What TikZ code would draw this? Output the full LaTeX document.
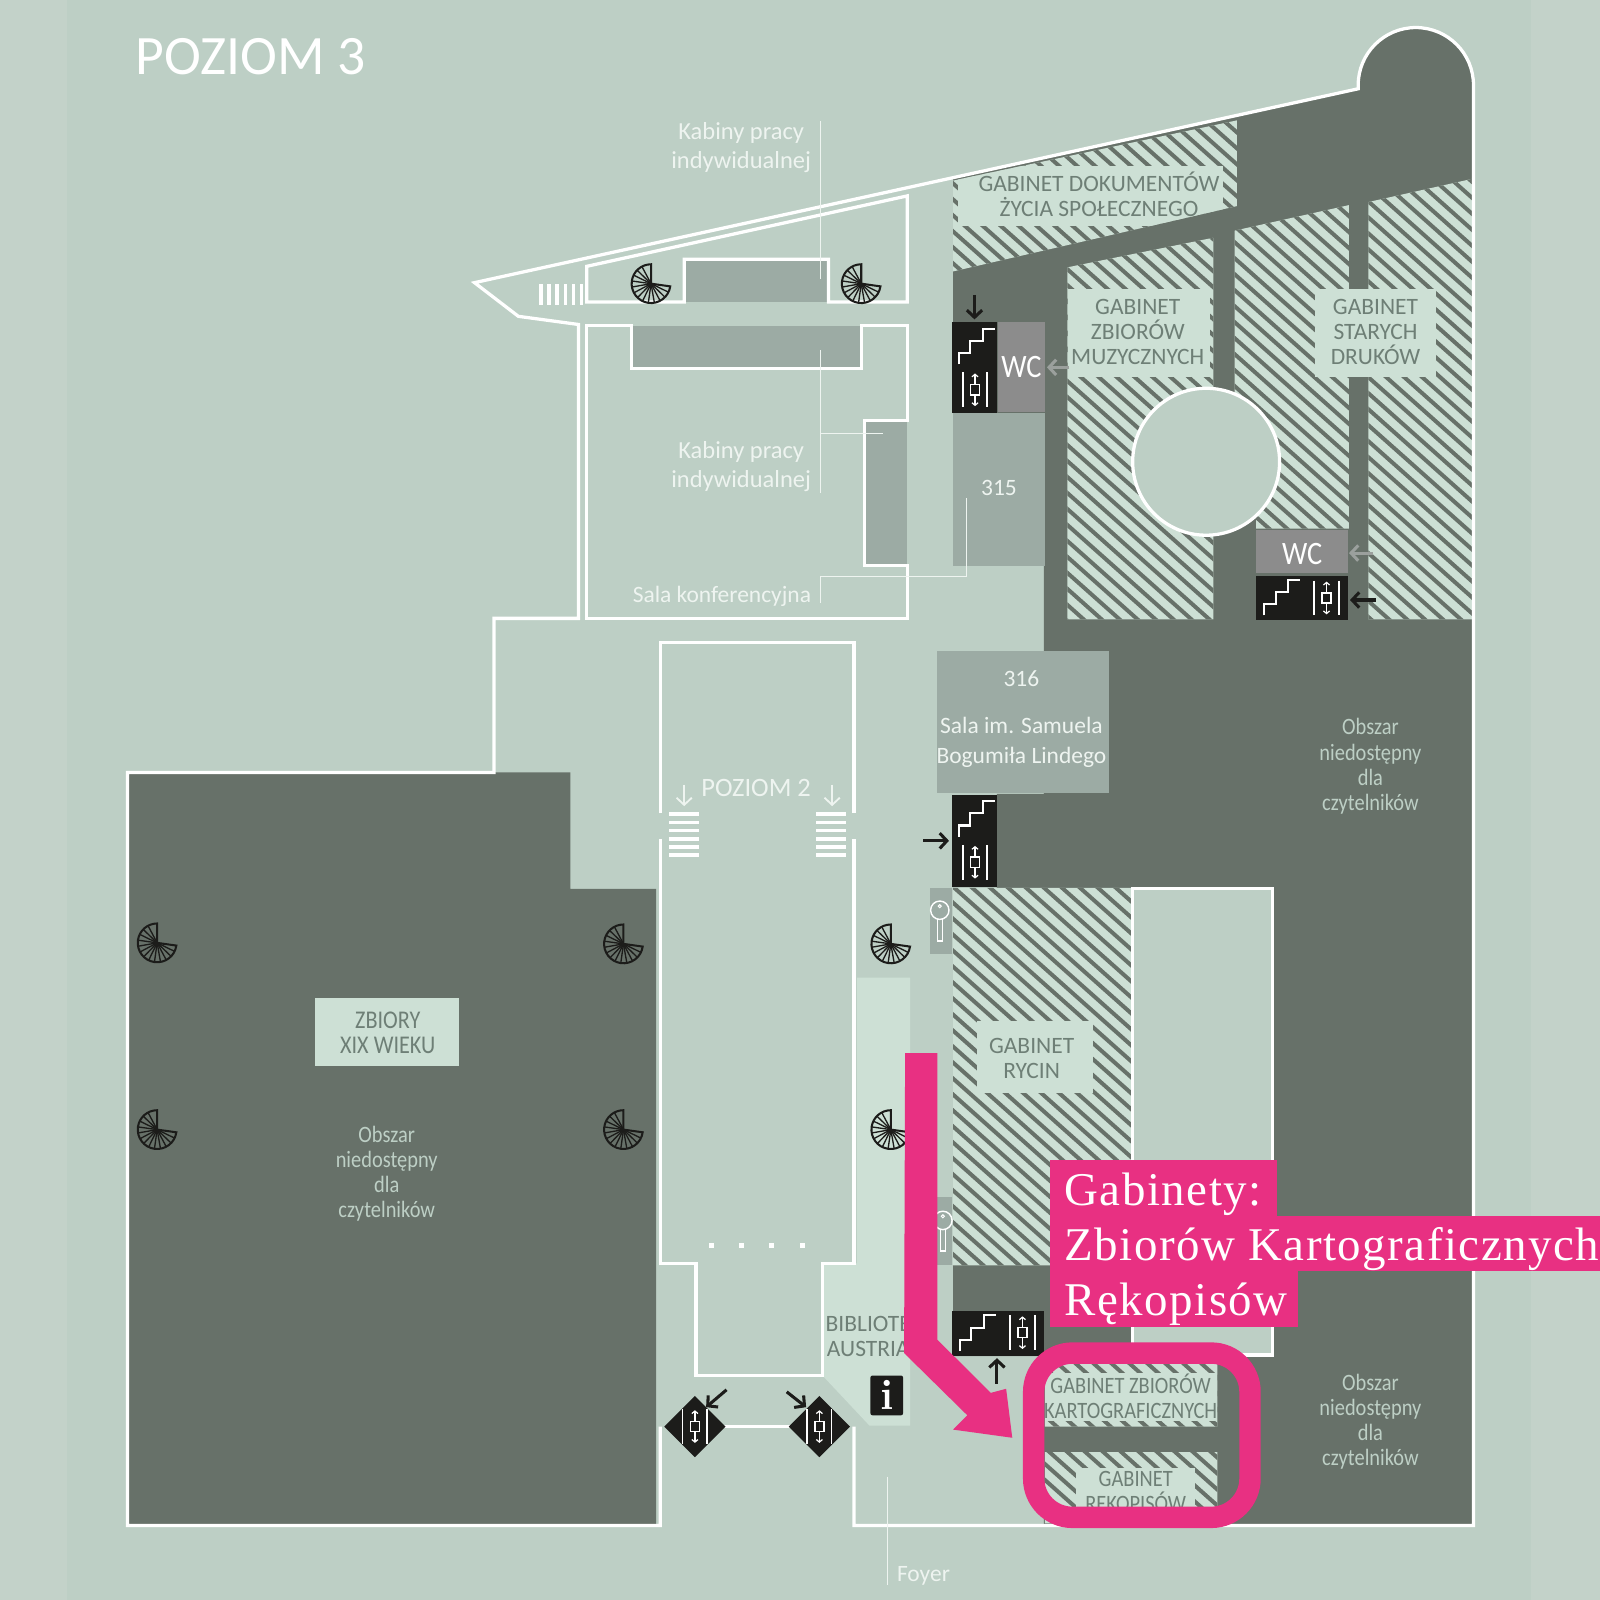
\documentclass[tikz,border=0pt]{standalone}
\usepackage{fontspec}
\setsansfont{Carlito}
\newfontfamily\narrowsans[FakeStretch=0.87]{Carlito}
\newfontfamily\pinkserif[LetterSpace=3.2]{Liberation Serif}
\usetikzlibrary{arrows.meta}
\definecolor{sidebg}{HTML}{C3D2C9}
\definecolor{floorbg}{HTML}{BDCFC5}
\definecolor{darkarea}{HTML}{677169}
\definecolor{roomgray}{HTML}{9CABA4}
\definecolor{panel}{HTML}{CDE0D5}
\definecolor{wcgray}{HTML}{8C8C8C}
\definecolor{iconblack}{HTML}{1C1C1A}
\definecolor{hotpink}{HTML}{E83082}
\definecolor{labelgreen}{HTML}{6E7F76}
\definecolor{labelwhite}{HTML}{EEF4F0}
\tikzset{
  wall/.style={draw=white,line width=3.2pt,line join=miter},
  thinline/.style={draw=labelwhite,line width=1pt},
  hatchline/.style={draw=darkarea,line width=3.9pt},
  maptext/.style={font=\sffamily\fontsize{23}{24.6}\selectfont,align=center,inner sep=0pt},
  gabinet/.style={maptext,text=labelgreen},
  narrowtext/.style={gabinet,font=\narrowsans\fontsize{23}{24.6}\selectfont},
  whitetext/.style={maptext,text=labelwhite},
  wcmark/.style={maptext,text=white,font=\narrowsans\fontsize{32}{32}\selectfont},
  closedtext/.style={maptext,text=floorbg,font=\narrowsans\fontsize{23}{24.6}\selectfont},
  pinktext/.style={font=\pinkserif\fontsize{46}{54}\selectfont,anchor=base west,inner sep=0pt,text=white},
  blackarrow/.style={draw=iconblack,line width=3pt,-{Straight Barb[length=7pt,width=15pt,line width=3pt]}},
  grayarrow/.style={blackarrow,draw=wcgray!70!floorbg},
  whitearrow/.style={draw=labelwhite,line width=1.8pt,-{Straight Barb[length=7pt,width=15pt,line width=1.8pt]}},
  stairsicon/.pic={\draw[white,line width=2pt] (0,35)--(0,24)--(11,24)--(11,12)--(23,12)--(23,0)--(35,0);},
  lifticon/.pic={
    \draw[white,line width=1.6pt] (-12,-17)--(-12,17) (12,-17)--(12,17);
    \draw[white,line width=1.4pt] (-4.5,-5) rectangle (4.5,5);
    \draw[white,line width=1.2pt,-{Straight Barb[length=2.5pt,width=6pt]}] (0,-5)--(0,-16);
    \draw[white,line width=1.2pt,-{Straight Barb[length=2.5pt,width=6pt]}] (0,5)--(0,16);},
  spiralstair/.pic={
    \draw[iconblack,line width=2pt] (0,0)--(8:19) arc[start angle=8,end angle=270,radius=19]--cycle;
    \foreach \a in {26,44,...,252}
      \draw[iconblack,line width=1.3pt] (0,0)--(\a:19);},
  keyicon/.pic={
    \draw[white,line width=1.4pt] (0,0) circle[radius=9];
    \draw[white,line width=1pt] (0,-4) circle[radius=1.5];
    \draw[white,line width=1.4pt] (-2.5,9)--(-2.5,30)--(2.5,30)--(2.5,9);}
}
\begin{document}
\begin{tikzpicture}[x=1pt,y=-1pt]
\useasboundingbox (0,0) rectangle (1568,1568);
\fill[sidebg] (0,0) rectangle (1568,1568);
\fill[floorbg] (66,0) rectangle (1500,1568);
%dark areas
\fill[darkarea] (125,757)--(559,757)--(559,871)--(643,871)--(643,1495)--(125,1495)--cycle;
\fill[darkarea] (934,174)--(1331,87)--(1331,83.5) arc[start angle=180,end angle=360,radius=56.5]--(1444,1495)--(1023,1495)--(1023,1329)--(934,1329)--(934,870)--(977,870)--(977,778)--(1023,778)--(1023,405)--(934,405)--cycle;
%rooms
\fill[roomgray] (670,254) rectangle (812,296);
\fill[roomgray] (619,319) rectangle (844,361);
\fill[roomgray] (847,412) rectangle (889,554);
\fill[roomgray] (934,405) rectangle (1024,555);
\fill[roomgray] (918,638) rectangle (1087,777);
\fill[panel] (840,958)--(892,958)--(892,1397)--(852,1397)--(806,1348)--(806,1238)--(840,1238)--cycle;
%hatched rooms
\begin{scope}
\clip (934,177)--(1212,118)--(1212,202)--(934,266)--cycle
  (1046,262)--(1189,233)--(1189,607)--(1046,607)--cycle
  (1210,226)--(1322,201)--(1322,518)--(1231,518)--(1231,505)--(1210,480)--cycle
  (1341,198)--(1444,175)--(1444,607)--(1341,607)--cycle
  (934,870) rectangle (1110,1240)
  (1024,1336) rectangle (1193,1398)
  (1024,1423) rectangle (1193,1493);
\fill[panel] (900,100) rectangle (1450,1500);
\foreach \c in {-992.8,-975.2,...,1400}
  \draw[hatchline] (\c,0)--(\c+1800,1602);
\end{scope}
%label panels
\begin{scope}
\clip (934,177)--(1212,118)--(1212,202)--(934,266)--cycle;
\fill[panel] (939,163) rectangle (1199,221);
\end{scope}
\fill[panel] (1047,283) rectangle (1186,369);
\fill[panel] (1289,283) rectangle (1407,369);
\fill[panel] (957,1001) rectangle (1071,1071);
\fill[panel] (1024,1346) rectangle (1193,1393);
\fill[panel] (1054,1439) rectangle (1171,1490);
\fill[panel] (309,978) rectangle (450,1045);
%gray tiles
\fill[wcgray] (978,316) rectangle (1024,404);
\fill[wcgray] (1231,519) rectangle (1321,562);
\fill[roomgray] (911,870) rectangle (933,935);
\fill[roomgray] (911,1173) rectangle (933,1240);
%walls
\draw[wall,fill=floorbg] (1182,452.5) circle[radius=72];
\draw[wall,fill=floorbg] (1110,871) rectangle (1247,1328);
\draw[wall] (647,1398)--(647,1495)--(125,1495)--(125,757)--(484,757)--(484,606)--(567,606)--(567,318)--(508,310)--(465,277)--(1331,87)--(1331,83.5) arc[start angle=180,end angle=360,radius=56.5]--(1444,1495)--(837,1495)--(837,1398);
\draw[wall] (680,1398)--(780,1398);
\draw[wall] (575,261)--(889,192)--(889,296)--(812,296)--(812,254)--(670.5,254)--(670.5,296)--(575,296)--cycle;
\draw[wall] (575,319)--(619,319)--(619,361)--(844,361)--(844,319)--(889,319)--(889,412)--(847,412)--(847,554)--(889,554)--(889,606)--(575,606)--cycle;
\draw[wall] (647,797)--(647,630)--(837,630)--(837,797);
\draw[wall] (647,822)--(647,1238)--(682,1238)--(682,1348)--(806,1348)--(806,1238)--(837,1238)--(837,822);
%steps and dots
\foreach \x in {530,538,546,554,562,570}
  \fill[white] (\x-1.7,278) rectangle (\x+1.7,299);
\foreach \y in {798,806,814,822,830,838} {
  \fill[white] (656,\y-1.8) rectangle (685,\y+1.8);
  \fill[white] (800,\y-1.8) rectangle (829,\y+1.8);
}
\foreach \x in {697,727,756,786}
  \fill[white] (\x-2.5,1218.5) rectangle (\x+2.5,1223.5);
%thin label lines
\draw[thinline] (804,119)--(804,273);
\draw[thinline] (804,343)--(804,483);
\draw[thinline] (804,425)--(865,425);
\draw[thinline] (804,591)--(804,565)--(947,565)--(947,488);
\draw[thinline] (870,1447)--(870,1553);
%black blocks
\fill[iconblack] (933,316) rectangle (977,405);
\fill[iconblack] (933,779) rectangle (977,869);
\fill[iconblack] (1231,564) rectangle (1321,608);
\fill[iconblack] (933,1285) rectangle (1023,1329);
\fill[iconblack,rounded corners=2pt] (853,1348) rectangle (885,1387);
\fill[iconblack] (651,1398)--(681,1368)--(711,1398)--(681,1428)--cycle;
\fill[iconblack] (773,1398)--(803,1368)--(833,1398)--(803,1428)--cycle;
%icons
\pic at (940,322) {stairsicon};
\pic at (955.5,382) {lifticon};
\pic at (940,785) {stairsicon};
\pic at (955.5,845) {lifticon};
\pic at (1239,568) {stairsicon};
\pic at (1300,586) {lifticon};
\pic at (941,1289) {stairsicon};
\pic at (1002,1306) {lifticon};
\pic at (681,1398) {lifticon};
\pic at (803,1398) {lifticon};
\pic at (921,892) {keyicon};
\pic at (924,1196) {keyicon};
\foreach \x/\y in {154/924,611/925,154/1107,611/1107,873/925,873/1107,638/278,844/278}
  \pic at (\x,\y) {spiralstair};
%small arrows
\draw[blackarrow] (955,289)--(955,313);
\draw[blackarrow] (905,824)--(930,824);
\draw[blackarrow] (1348,588)--(1323,588);
\draw[blackarrow] (977,1356)--(977,1331);
\draw[blackarrow] (712,1362)--(692,1379);
\draw[blackarrow] (771,1364)--(790,1379);
\draw[grayarrow] (1048,360)--(1026,360);
\draw[grayarrow] (1346,542)--(1322,542);
\draw[whitearrow] (670.5,769)--(670.5,790);
\draw[whitearrow] (815.5,769)--(815.5,790);
%map texts
\node[maptext,text=white,font=\sffamily\fontsize{54.5}{54}\selectfont,anchor=west] (title) at (133,56) {POZIOM 3};
\node[whitetext,font=\sffamily\fontsize{24}{28.5}\selectfont,anchor=east] (cabinsTop) at (795,145) {Kabiny pracy\\indywidualnej};
\node[whitetext,font=\sffamily\fontsize{24}{28.5}\selectfont,anchor=east] (cabinsLow) at (795,457.5) {Kabiny pracy\\indywidualnej};
\node[whitetext,anchor=east] (confRoom) at (795,584) {Sala konferencyjna};
\node[whitetext] (room315) at (979,478) {315};
\node[whitetext] (room316) at (1001,665) {316};
\node[whitetext,font=\sffamily\fontsize{23}{30}\selectfont] (lindeRoom) at (1001,727.5) {Sala im. Samuela\\Bogumiła Lindego};
\node[wcmark] (wcUpper) at (1001,360) {WC};
\node[wcmark] (wcLower) at (1276,543) {WC};
\node[whitetext,font=\sffamily\fontsize{26}{26}\selectfont] (level2) at (741,772) {POZIOM 2};
\node[gabinet] (docs) at (1077,190.5) {GABINET DOKUMENTÓW\\ŻYCIA SPOŁECZNEGO};
\node[gabinet] (music) at (1115,325) {GABINET\\ZBIORÓW\\MUZYCZNYCH};
\node[gabinet] (prints) at (1348,325) {GABINET\\STARYCH\\DRUKÓW};
\node[gabinet] (rycin) at (1011,1037) {GABINET\\RYCIN};
\node[narrowtext,font=\narrowsans\fontsize{25}{24.6}\selectfont] (xix) at (380,1012) {ZBIORY\\XIX WIEKU};
\node[gabinet,anchor=north west] (austria) at (809,1290) {BIBLIOTE\\AUSTRIA};
\node[narrowtext] (maps) at (1108,1368.5) {GABINET ZBIORÓW\\KARTOGRAFICZNYCH};
\node[narrowtext] (manuscripts) at (1113,1462) {GABINET\\REKOPISÓW};
\node[closedtext] (closedLeft) at (379,1150) {Obszar\\niedostępny\\dla\\czytelników};
\node[closedtext] (closedTop) at (1343,751) {Obszar\\niedostępny\\dla\\czytelników};
\node[closedtext] (closedLow) at (1343,1393) {Obszar\\niedostępny\\dla\\czytelników};
\node[whitetext] (foyer) at (905,1544) {Foyer};
\node[font=\rmfamily\bfseries\fontsize{42}{42}\selectfont,text=white,inner sep=0pt] (info) at (869,1367) {i};
%pink marks
\fill[hotpink] (887,1032)--(918.7,1032)--(918.7,1313)--(971,1365)--(986,1361)--(992,1409)--(934,1401)--(948,1387)--(886,1326)--cycle;
\draw[hotpink,line width=21pt,rounded corners=38pt] (1013,1326) rectangle (1225,1487);
\fill[hotpink] (1029,1137) rectangle (1251,1192);
\fill[hotpink] (1029,1192) rectangle (1568,1246);
\fill[hotpink] (1029,1246) rectangle (1272,1300);
\node[pinktext] (pinkA) at (1043,1181) {Gabinety:};
\node[pinktext] (pinkB) at (1043,1235) {Zbiorów Kartograficznych};
\node[pinktext] (pinkC) at (1043,1289) {Rękopisów};
\end{tikzpicture}
\end{document}
